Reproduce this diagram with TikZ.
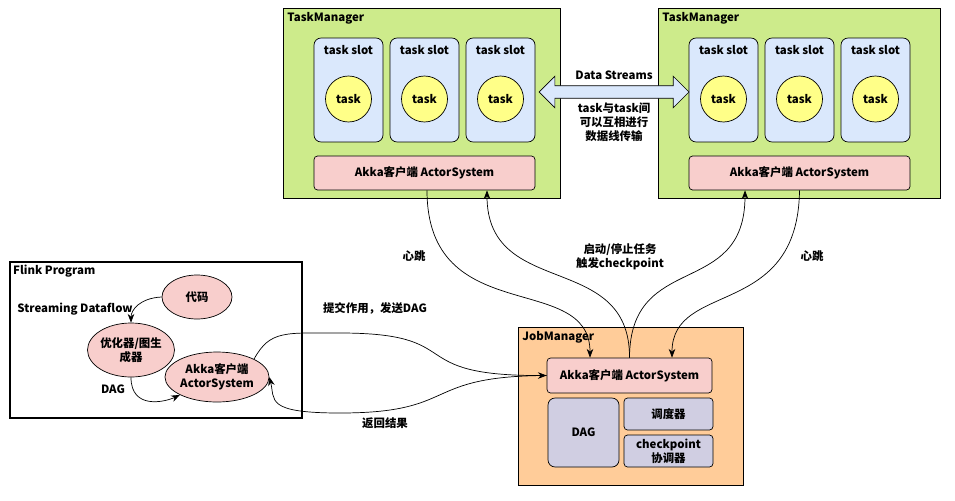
\documentclass[tikz,border=0pt]{standalone}
\usepackage{fontspec}
\setmainfont{Noto Sans CJK SC}
\usetikzlibrary{arrows.meta,shapes.arrows,shapes.geometric}
\definecolor{tmgreen}{HTML}{CDEB8B}
\definecolor{slotblue}{HTML}{DAE8FC}
\definecolor{taskyellow}{HTML}{FFFF88}
\definecolor{akkapink}{HTML}{F8CECC}
\definecolor{jmorange}{HTML}{FFCC99}
\definecolor{dagpurple}{HTML}{D0CEE2}
\tikzset{
  box/.style={draw, inner sep=0pt, align=center},
  slot/.style={box, rounded corners=4pt, fill=slotblue, minimum width=1.38cm, minimum height=2.08cm},
  task/.style={circle, draw, fill=taskyellow, minimum size=0.92cm, inner sep=0pt},
  akka/.style={box, rounded corners=2pt, fill=akkapink},
  blob/.style={ellipse, draw, fill=akkapink, inner sep=0pt, align=center},
  lbl/.style={inner sep=1pt, align=center},
  flow/.style={-{Stealth[length=5pt]}, thin}
}
\begin{document}
\begin{tikzpicture}[x=0.02cm, y=-0.02cm, font=\fontsize{6.5}{8}\selectfont\bfseries]
    \useasboundingbox (0,0) rectangle (955,500);

    % TaskManagers
    \node[box, fill=tmgreen, minimum width=5.54cm, minimum height=3.8cm] (tmA) at (421.5,103) {};
    \node[lbl, anchor=north west, inner sep=2.5pt] (tmAlbl) at (tmA.north west) {TaskManager};
    \node[box, fill=tmgreen, minimum width=5.64cm, minimum height=3.8cm] (tmB) at (799,103) {};
    \node[lbl, anchor=north west, inner sep=2.5pt] (tmBlbl) at (tmB.north west) {TaskManager};

    % Slots
    \foreach \n/\x in {a1/348.5, a2/424.5, a3/500.5, b1/723.5, b2/799.5, b3/875.5} {
        \node[slot] (slot\n) at (\x,90) {};
        \node[lbl] (slotlbl\n) at (\x,50) {task slot};
        \node[task] (task\n) at (\x,99) {task};
    }

    % Akka bars
    \node[akka, minimum width=4.42cm, minimum height=0.68cm] (akkaA) at (424.5,173) {Akka客户端 ActorSystem};
    \node[akka, minimum width=4.42cm, minimum height=0.68cm] (akkaB) at (799.5,173) {Akka客户端 ActorSystem};

    % Data Streams
    \node[double arrow, draw, fill=slotblue, inner xsep=0pt, inner ysep=0.12cm, minimum width=0.62cm,
          double arrow head extend=0.19cm, minimum height=3.0cm] (stream) at (614,92) {};
    \node[lbl] (streamlbl) at (614,75) {Data Streams};
    \node[lbl] (streamtxt) at (614,122) {task与task间\\可以互相进行\\数据线传输};

    % Flink Program
    \node[box, thick, minimum width=5.84cm, minimum height=3.12cm] (flink) at (156,340) {};
    \node[lbl, anchor=north west, inner sep=2pt] (flinklbl) at (flink.north west) {Flink Program};
    \node[blob, minimum width=1.4cm, minimum height=0.88cm] (code) at (197,297) {代码};
    \node[blob, minimum width=1.4cm, minimum height=1.08cm] (opt) at (131,350) {优化器/图生\\成器};
    \node[blob, minimum width=1.68cm, minimum height=1.0cm] (client) at (217,377) {Akka客户端\\ActorSystem};
    \node[lbl] (sdlbl) at (75,309) {Streaming Dataflow};
    \node[lbl] (daglbl) at (113,389) {DAG};

    % JobManager
    \node[box, fill=jmorange, minimum width=4.5cm, minimum height=3.16cm] (jm) at (630.5,406) {};
    \node[lbl, anchor=north west, inner sep=2.5pt] (jmlbl) at (jm.north west) {JobManager};
    \node[akka, minimum width=3.3cm, minimum height=0.7cm] (jmakka) at (629.5,375.5) {Akka客户端 ActorSystem};
    \node[box, rounded corners=4pt, fill=dagpurple, minimum width=1.42cm, minimum height=1.38cm] (dag) at (583.5,432.5) {DAG};
    \node[box, rounded corners=2pt, fill=dagpurple, minimum width=1.78cm, minimum height=0.64cm] (sched) at (668.5,414) {调度器};
    \node[box, rounded corners=2pt, fill=dagpurple, minimum width=1.78cm, minimum height=0.64cm] (ckpt) at (668.5,451) {checkpoint\\协调器};

    % Labels
    \node[lbl] (hbA) at (414,256) {心跳};
    \node[lbl] (ctrl) at (620,257) {启动/停止任务\\触发checkpoint};
    \node[lbl] (hbB) at (812,256) {心跳};
    \node[lbl] (submit) at (375,308) {提交作用，发送DAG};
    \node[lbl] (result) at (385,423) {返回结果};

    % Connectors
    \draw[flow] ([xshift=0.05cm]akkaA.south) .. controls (427,330) and (590,270) .. ([xshift=-0.79cm]jmakka.north);
    \draw[flow] (jmakka.north) .. controls (630,250) and (487,300) .. ([xshift=1.25cm]akkaA.south);
    \draw[flow] (jmakka.north) .. controls (630,250) and (745,300) .. ([xshift=-1.09cm]akkaB.south);
    \draw[flow] (akkaB.south) .. controls (798,320) and (672,280) .. ([xshift=0.85cm]jmakka.north);
    \draw[flow] (client.north east) .. controls (270,330) and (285,333) .. (340,333)
        .. controls (470,333) and (400,376) .. (jmakka.west);
    \draw[flow] (jmakka.west) .. controls (420,376) and (460,413) .. (340,413)
        .. controls (265,413) and (275,400) .. (client.east);
    \draw[flow] (code.west) .. controls (140,298) and (131,310) .. (opt.north);
    \draw[flow] (opt.south) .. controls (131,410) and (165,402) .. (client.south west);
\end{tikzpicture}
\end{document}
